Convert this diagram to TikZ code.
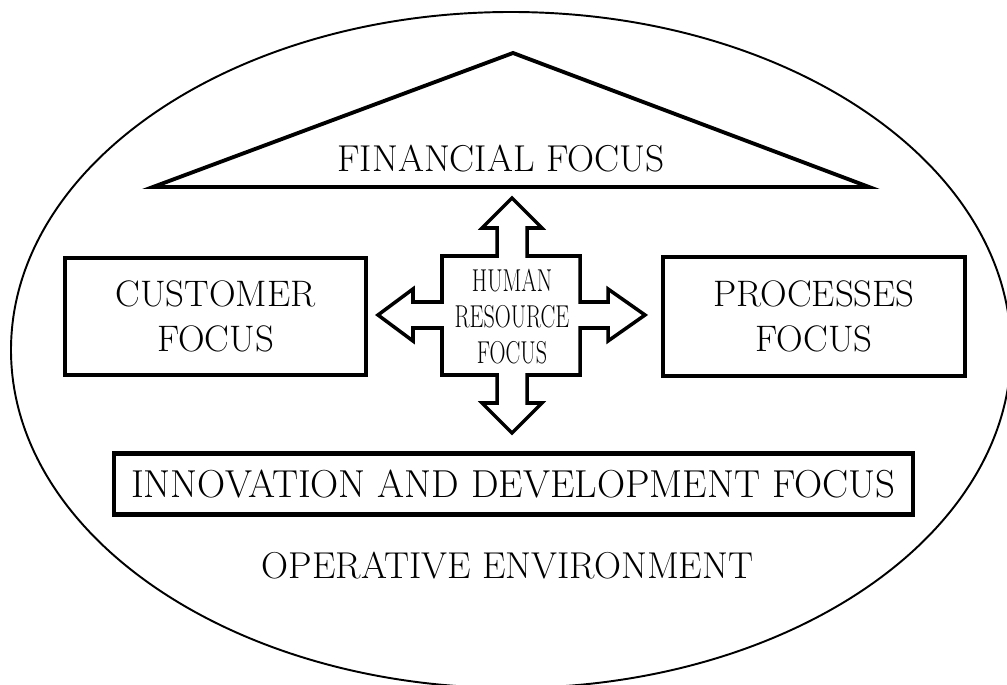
\documentclass[tikz,border=0pt]{standalone}
\newcommand{\narrowtext}[1]{\scalebox{0.7}[1]{#1}}
\begin{document}
\begin{tikzpicture}[
        x=0.02cm, y=-0.02cm,
        focusbox/.style={rectangle, draw, line width=2.4pt, align=center, inner sep=0pt, font=\fontsize{21}{26}\selectfont},
        plaintext/.style={inner sep=0pt, font=\fontsize{21.3}{24}\selectfont},
        outline/.style={line width=2.2pt, line join=miter},
        envline/.style={line width=1.1pt}
    ]
        \useasboundingbox (0,0) rectangle (1007,685);
        \clip (0,0) rectangle (1007,685);

        \draw[envline] (511,350) ellipse [x radius=500, y radius=338];

        \draw[outline] (153,187) -- (513,53) -- (869,187) -- cycle;
        \node[plaintext, anchor=base] (fin) at (501,172) {FINANCIAL FOCUS};

        \node[focusbox, minimum width=6.02cm, minimum height=2.34cm] (cust) at (215.5,316.5) {CUSTOMER\\FOCUS};
        \node[focusbox, minimum width=6.04cm, minimum height=2.38cm] (proc) at (814,316.5) {PROCESSES\\FOCUS};
        \node[focusbox, minimum width=15.98cm, minimum height=1.22cm, font=\fontsize{22.2}{26}\selectfont] (innov) at (513.5,484) {INNOVATION AND DEVELOPMENT FOCUS};

        \draw[outline, line width=2pt] (512,198) -- (542,228) -- (527,228) -- (527,256) -- (580,256) -- (580,302)
            -- (608,302) -- (608,289) -- (645,315) -- (608,341) -- (608,328) -- (580,328) -- (580,375)
            -- (527,375) -- (527,403) -- (542,403) -- (512,433) -- (482,403) -- (497,403) -- (497,375)
            -- (442,375) -- (442,328) -- (413,328) -- (413,341) -- (378,315) -- (413,289) -- (413,302)
            -- (442,302) -- (442,256) -- (497,256) -- (497,228) -- (482,228) -- cycle;
        \node[align=center, inner sep=0pt, font=\fontsize{18}{20.5}\selectfont] (hr) at (512,316.5)
            {\narrowtext{HUMAN}\\\narrowtext{RESOURCE}\\\narrowtext{FOCUS}};

        \node[plaintext, anchor=base] (env) at (507.5,578) {OPERATIVE ENVIRONMENT};
    \end{tikzpicture}
\end{document}
